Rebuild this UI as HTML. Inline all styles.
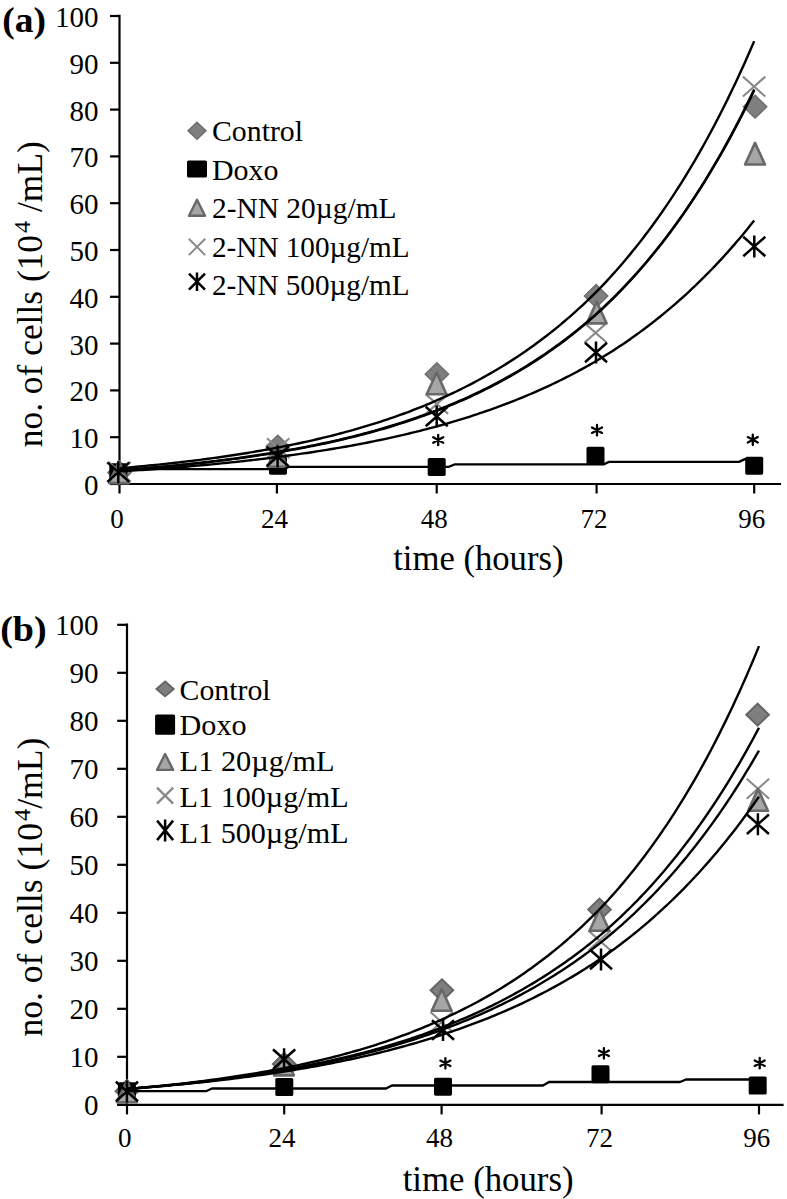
<!DOCTYPE html><html><head><meta charset="utf-8"><style>html,body{margin:0;padding:0;background:#fff;}svg{display:block;}text{font-family:"Liberation Serif",serif;}</style></head><body>
<svg width="787" height="1199" viewBox="0 0 787 1199">
<rect width="787" height="1199" fill="#fff"/>
<g stroke="#000" stroke-width="2.2" fill="none">
<path d="M119.5 14.8V485.2"/>
<path d="M110.0 484.0H119.5"/>
<path d="M110.0 437.2H119.5"/>
<path d="M110.0 390.4H119.5"/>
<path d="M110.0 343.6H119.5"/>
<path d="M110.0 296.8H119.5"/>
<path d="M110.0 250.0H119.5"/>
<path d="M110.0 203.2H119.5"/>
<path d="M110.0 156.4H119.5"/>
<path d="M110.0 109.6H119.5"/>
<path d="M110.0 62.8H119.5"/>
<path d="M110.0 16.0H119.5"/>
<path d="M110.0 484.0H781.0"/>
<path d="M119.5 484.0V493.5"/>
<path d="M276.9 484.0V493.5"/>
<path d="M436.7 484.0V493.5"/>
<path d="M596.6 484.0V493.5"/>
<path d="M754.2 484.0V493.5"/>
</g>
<g fill="#000">
<text x="98.5" y="494.9" font-size="29.0" text-anchor="end" font-weight="normal" >0</text>
<text x="98.5" y="448.1" font-size="29.0" text-anchor="end" font-weight="normal" >10</text>
<text x="98.5" y="401.3" font-size="29.0" text-anchor="end" font-weight="normal" >20</text>
<text x="98.5" y="354.5" font-size="29.0" text-anchor="end" font-weight="normal" >30</text>
<text x="98.5" y="307.7" font-size="29.0" text-anchor="end" font-weight="normal" >40</text>
<text x="98.5" y="260.9" font-size="29.0" text-anchor="end" font-weight="normal" >50</text>
<text x="98.5" y="214.1" font-size="29.0" text-anchor="end" font-weight="normal" >60</text>
<text x="98.5" y="167.3" font-size="29.0" text-anchor="end" font-weight="normal" >70</text>
<text x="98.5" y="120.5" font-size="29.0" text-anchor="end" font-weight="normal" >80</text>
<text x="98.5" y="73.7" font-size="29.0" text-anchor="end" font-weight="normal" >90</text>
<text x="98.5" y="26.9" font-size="29.0" text-anchor="end" font-weight="normal" >100</text>
<text x="117.0" y="528.0" font-size="27.0" text-anchor="middle" font-weight="normal" >0</text>
<text x="274.4" y="528.0" font-size="27.0" text-anchor="middle" font-weight="normal" >24</text>
<text x="434.2" y="528.0" font-size="27.0" text-anchor="middle" font-weight="normal" >48</text>
<text x="594.1" y="528.0" font-size="27.0" text-anchor="middle" font-weight="normal" >72</text>
<text x="751.7" y="528.0" font-size="27.0" text-anchor="middle" font-weight="normal" >96</text>
<text x="393.2" y="569.6" font-size="35.0" text-anchor="start" font-weight="normal" textLength="170.3" lengthAdjust="spacingAndGlyphs">time (hours)</text>
<text transform="translate(42.0 447.2) rotate(-90)" font-size="35.0" textLength="306.0" lengthAdjust="spacingAndGlyphs">no. of cells (10<tspan dx="2" dy="-12" font-size="24">4</tspan><tspan dy="12"> /mL)</tspan></text>
<text x="2.3" y="31.9" font-size="36.0" text-anchor="start" font-weight="bold" textLength="43.8" lengthAdjust="spacingAndGlyphs">(a)</text>
</g>
<polygon points="119.5,461.2 131.2,472.6 119.5,484.0 107.8,472.6" fill="#7f7f7f" stroke="#6c6c6c" stroke-width="1.4"/>
<rect x="109.3" y="463.2" width="18.0" height="18.0" rx="1.6" fill="#000"/>
<path d="M108.3 461.9L130.7 481.8M108.3 481.8L130.7 461.9" stroke="#8a8a8a" stroke-width="2.1" fill="none"/>
<polygon points="119.0,461.5 128.9,483.1 109.1,483.1" fill="#a6a6a6" stroke="#686868" stroke-width="2.6" stroke-linejoin="round"/>
<path d="M107.3 462.4L129.3 481.9M107.3 481.9L129.3 462.4M118.3 461.2V483.2" stroke="#000" stroke-width="2.5" fill="none"/>
<polygon points="277.8,435.2 289.5,446.6 277.8,458.0 266.1,446.6" fill="#7f7f7f" stroke="#6c6c6c" stroke-width="1.4"/>
<rect x="269.0" y="456.7" width="18.0" height="18.0" rx="1.6" fill="#000"/>
<path d="M267.0 438.2L289.4 458.1M267.0 458.1L289.4 438.2" stroke="#8a8a8a" stroke-width="2.1" fill="none"/>
<polygon points="277.5,445.2 287.4,466.8 267.6,466.8" fill="#a6a6a6" stroke="#686868" stroke-width="2.6" stroke-linejoin="round"/>
<path d="M266.6 446.8L288.6 466.2M266.6 466.2L288.6 446.8M277.6 445.5V467.5" stroke="#000" stroke-width="2.5" fill="none"/>
<polygon points="436.9,362.8 448.6,374.2 436.9,385.6 425.2,374.2" fill="#7f7f7f" stroke="#6c6c6c" stroke-width="1.4"/>
<rect x="427.7" y="457.9" width="18.0" height="18.0" rx="1.6" fill="#000"/>
<path d="M425.7 394.1L448.1 413.9M425.7 413.9L448.1 394.1" stroke="#8a8a8a" stroke-width="2.1" fill="none"/>
<polygon points="436.6,372.7 446.5,394.2 426.7,394.2" fill="#a6a6a6" stroke="#686868" stroke-width="2.6" stroke-linejoin="round"/>
<path d="M425.7 406.8L447.7 426.2M425.7 426.2L447.7 406.8M436.7 405.5V427.5" stroke="#000" stroke-width="2.5" fill="none"/>
<polygon points="596.1,284.6 607.8,296.0 596.1,307.4 584.4,296.0" fill="#7f7f7f" stroke="#6c6c6c" stroke-width="1.4"/>
<rect x="586.5" y="446.8" width="18.0" height="18.0" rx="1.6" fill="#000"/>
<path d="M584.4 322.9L606.8 342.8M584.4 342.8L606.8 322.9" stroke="#8a8a8a" stroke-width="2.1" fill="none"/>
<polygon points="596.7,301.9 606.6,323.4 586.8,323.4" fill="#a6a6a6" stroke="#686868" stroke-width="2.6" stroke-linejoin="round"/>
<path d="M585.0 342.8L607.0 362.2M585.0 362.2L607.0 342.8M596.0 341.5V363.5" stroke="#000" stroke-width="2.5" fill="none"/>
<polygon points="755.1,95.3 766.8,106.7 755.1,118.1 743.4,106.7" fill="#7f7f7f" stroke="#6c6c6c" stroke-width="1.4"/>
<rect x="745.2" y="456.7" width="18.0" height="18.0" rx="1.6" fill="#000"/>
<path d="M742.9 76.6L765.3 96.5M742.9 96.5L765.3 76.6" stroke="#8a8a8a" stroke-width="2.1" fill="none"/>
<polygon points="755.0,142.9 764.9,164.5 745.1,164.5" fill="#a6a6a6" stroke="#686868" stroke-width="2.6" stroke-linejoin="round"/>
<path d="M743.3 236.8L765.3 256.2M743.3 256.2L765.3 236.8M754.3 235.5V257.5" stroke="#000" stroke-width="2.5" fill="none"/>
<polyline points="119.50,468.23 122.78,467.95 126.06,467.67 129.34,467.38 132.62,467.09 135.90,466.80 139.18,466.50 142.45,466.19 145.73,465.88 149.01,465.56 152.29,465.24 155.57,464.91 158.85,464.57 162.13,464.23 165.41,463.89 168.69,463.53 171.97,463.18 175.25,462.81 178.52,462.44 181.80,462.06 185.08,461.68 188.36,461.29 191.64,460.89 194.92,460.48 198.20,460.07 201.48,459.65 204.76,459.23 208.04,458.79 211.32,458.35 214.60,457.90 217.88,457.44 221.15,456.98 224.43,456.50 227.71,456.02 230.99,455.53 234.27,455.03 237.55,454.53 240.83,454.01 244.11,453.48 247.39,452.95 250.67,452.40 253.95,451.85 257.22,451.29 260.50,450.71 263.78,450.13 267.06,449.54 270.34,448.93 273.62,448.32 276.90,447.69 280.23,447.06 283.56,446.41 286.89,445.75 290.22,445.08 293.55,444.40 296.88,443.71 300.20,443.00 303.53,442.28 306.86,441.55 310.19,440.81 313.52,440.05 316.85,439.28 320.18,438.50 323.51,437.70 326.84,436.89 330.17,436.06 333.50,435.22 336.82,434.37 340.15,433.50 343.48,432.61 346.81,431.71 350.14,430.80 353.47,429.87 356.80,428.92 360.13,427.95 363.46,426.97 366.79,425.97 370.12,424.95 373.45,423.92 376.77,422.87 380.10,421.79 383.43,420.70 386.76,419.60 390.09,418.47 393.42,417.32 396.75,416.15 400.08,414.96 403.41,413.75 406.74,412.52 410.07,411.27 413.40,409.99 416.73,408.70 420.05,407.38 423.38,406.04 426.71,404.67 430.04,403.28 433.37,401.87 436.70,400.43 440.03,398.96 443.36,397.47 446.69,395.96 450.02,394.41 453.36,392.84 456.69,391.25 460.02,389.62 463.35,387.97 466.68,386.28 470.01,384.57 473.34,382.83 476.68,381.06 480.01,379.25 483.34,377.42 486.67,375.55 490.00,373.65 493.33,371.72 496.66,369.75 499.99,367.75 503.32,365.71 506.66,363.64 509.99,361.53 513.32,359.38 516.65,357.20 519.98,354.98 523.31,352.72 526.64,350.42 529.98,348.08 533.31,345.70 536.64,343.27 539.97,340.81 543.30,338.30 546.63,335.74 549.96,333.15 553.29,330.50 556.62,327.81 559.96,325.08 563.29,322.29 566.62,319.46 569.95,316.58 573.28,313.64 576.61,310.66 579.94,307.62 583.27,304.53 586.61,301.38 589.94,298.19 593.27,294.93 596.60,291.62 599.88,288.25 603.17,284.82 606.45,281.33 609.73,277.77 613.02,274.16 616.30,270.48 619.58,266.74 622.87,262.94 626.15,259.06 629.43,255.12 632.72,251.11 636.00,247.03 639.28,242.88 642.57,238.65 645.85,234.35 649.13,229.98 652.42,225.53 655.70,221.00 658.98,216.39 662.27,211.70 665.55,206.93 668.83,202.08 672.12,197.14 675.40,192.11 678.68,187.00 681.97,181.79 685.25,176.50 688.53,171.11 691.82,165.63 695.10,160.05 698.38,154.37 701.67,148.60 704.95,142.72 708.23,136.74 711.52,130.66 714.80,124.47 718.08,118.17 721.37,111.76 724.65,105.23 727.93,98.60 731.22,91.84 734.50,84.97 737.78,77.98 741.07,70.87 744.35,63.63 747.63,56.26 750.92,48.77 754.20,41.14" fill="none" stroke="#000" stroke-width="2.40" stroke-linejoin="round"/>
<polyline points="119.50,470.43 122.78,470.19 126.06,469.94 129.34,469.69 132.62,469.44 135.90,469.18 139.18,468.92 142.45,468.65 145.73,468.38 149.01,468.11 152.29,467.82 155.57,467.54 158.85,467.25 162.13,466.95 165.41,466.65 168.69,466.34 171.97,466.03 175.25,465.71 178.52,465.39 181.80,465.06 185.08,464.72 188.36,464.38 191.64,464.03 194.92,463.68 198.20,463.32 201.48,462.95 204.76,462.58 208.04,462.20 211.32,461.82 214.60,461.42 217.88,461.02 221.15,460.62 224.43,460.20 227.71,459.78 230.99,459.35 234.27,458.92 237.55,458.47 240.83,458.02 244.11,457.56 247.39,457.09 250.67,456.61 253.95,456.13 257.22,455.64 260.50,455.13 263.78,454.62 267.06,454.10 270.34,453.57 273.62,453.03 276.90,452.49 280.23,451.93 283.56,451.36 286.89,450.78 290.22,450.19 293.55,449.60 296.88,448.99 300.20,448.37 303.53,447.74 306.86,447.09 310.19,446.44 313.52,445.78 316.85,445.10 320.18,444.41 323.51,443.71 326.84,443.00 330.17,442.27 333.50,441.53 336.82,440.78 340.15,440.01 343.48,439.24 346.81,438.44 350.14,437.64 353.47,436.82 356.80,435.98 360.13,435.13 363.46,434.27 366.79,433.38 370.12,432.49 373.45,431.58 376.77,430.65 380.10,429.70 383.43,428.74 386.76,427.76 390.09,426.77 393.42,425.75 396.75,424.72 400.08,423.67 403.41,422.61 406.74,421.52 410.07,420.41 413.40,419.29 416.73,418.14 420.05,416.98 423.38,415.79 426.71,414.58 430.04,413.35 433.37,412.10 436.70,410.83 440.03,409.53 443.36,408.21 446.69,406.87 450.02,405.51 453.36,404.12 456.69,402.70 460.02,401.26 463.35,399.80 466.68,398.31 470.01,396.79 473.34,395.25 476.68,393.68 480.01,392.08 483.34,390.45 486.67,388.79 490.00,387.11 493.33,385.39 496.66,383.65 499.99,381.87 503.32,380.06 506.66,378.22 509.99,376.35 513.32,374.44 516.65,372.50 519.98,370.53 523.31,368.52 526.64,366.47 529.98,364.39 533.31,362.28 536.64,360.12 539.97,357.93 543.30,355.70 546.63,353.42 549.96,351.11 553.29,348.76 556.62,346.36 559.96,343.93 563.29,341.45 566.62,338.92 569.95,336.36 573.28,333.74 576.61,331.08 579.94,328.37 583.27,325.62 586.61,322.81 589.94,319.96 593.27,317.06 596.60,314.10 599.88,311.09 603.17,308.03 606.45,304.92 609.73,301.74 613.02,298.52 616.30,295.23 619.58,291.89 622.87,288.49 626.15,285.03 629.43,281.51 632.72,277.92 636.00,274.27 639.28,270.56 642.57,266.78 645.85,262.93 649.13,259.02 652.42,255.04 655.70,250.98 658.98,246.86 662.27,242.66 665.55,238.39 668.83,234.04 672.12,229.61 675.40,225.11 678.68,220.52 681.97,215.86 685.25,211.11 688.53,206.28 691.82,201.36 695.10,196.36 698.38,191.27 701.67,186.08 704.95,180.81 708.23,175.44 711.52,169.98 714.80,164.42 718.08,158.76 721.37,153.00 724.65,147.14 727.93,141.18 731.22,135.11 734.50,128.93 737.78,122.65 741.07,116.25 744.35,109.74 747.63,103.11 750.92,96.37 754.20,89.50" fill="none" stroke="#000" stroke-width="2.40" stroke-linejoin="round"/>
<polyline points="119.50,470.19 122.78,469.95 126.06,469.70 129.34,469.45 132.62,469.20 135.90,468.94 139.18,468.67 142.45,468.40 145.73,468.13 149.01,467.85 152.29,467.56 155.57,467.27 158.85,466.98 162.13,466.68 165.41,466.37 168.69,466.06 171.97,465.75 175.25,465.43 178.52,465.10 181.80,464.77 185.08,464.43 188.36,464.08 191.64,463.73 194.92,463.38 198.20,463.01 201.48,462.64 204.76,462.27 208.04,461.89 211.32,461.50 214.60,461.10 217.88,460.70 221.15,460.29 224.43,459.87 227.71,459.44 230.99,459.01 234.27,458.57 237.55,458.12 240.83,457.67 244.11,457.21 247.39,456.73 250.67,456.25 253.95,455.77 257.22,455.27 260.50,454.76 263.78,454.25 267.06,453.72 270.34,453.19 273.62,452.65 276.90,452.10 280.23,451.54 283.56,450.96 286.89,450.38 290.22,449.79 293.55,449.19 296.88,448.58 300.20,447.95 303.53,447.32 306.86,446.67 310.19,446.01 313.52,445.35 316.85,444.67 320.18,443.97 323.51,443.27 326.84,442.55 330.17,441.82 333.50,441.08 336.82,440.32 340.15,439.55 343.48,438.77 346.81,437.98 350.14,437.17 353.47,436.34 356.80,435.50 360.13,434.65 363.46,433.78 366.79,432.90 370.12,432.00 373.45,431.08 376.77,430.15 380.10,429.20 383.43,428.24 386.76,427.26 390.09,426.26 393.42,425.24 396.75,424.21 400.08,423.15 403.41,422.08 406.74,420.99 410.07,419.88 413.40,418.75 416.73,417.61 420.05,416.44 423.38,415.25 426.71,414.04 430.04,412.81 433.37,411.55 436.70,410.28 440.03,408.98 443.36,407.66 446.69,406.32 450.02,404.95 453.36,403.56 456.69,402.14 460.02,400.70 463.35,399.23 466.68,397.74 470.01,396.22 473.34,394.68 476.68,393.11 480.01,391.51 483.34,389.88 486.67,388.22 490.00,386.53 493.33,384.82 496.66,383.07 499.99,381.30 503.32,379.49 506.66,377.65 509.99,375.78 513.32,373.87 516.65,371.93 519.98,369.96 523.31,367.95 526.64,365.91 529.98,363.83 533.31,361.72 536.64,359.56 539.97,357.37 543.30,355.14 546.63,352.87 549.96,350.57 553.29,348.22 556.62,345.83 559.96,343.40 563.29,340.92 566.62,338.40 569.95,335.84 573.28,333.23 576.61,330.58 579.94,327.88 583.27,325.13 586.61,322.33 589.94,319.48 593.27,316.59 596.60,313.64 599.88,310.64 603.17,307.59 606.45,304.49 609.73,301.33 613.02,298.11 616.30,294.84 619.58,291.51 622.87,288.12 626.15,284.67 629.43,281.16 632.72,277.59 636.00,273.96 639.28,270.26 642.57,266.50 645.85,262.67 649.13,258.77 652.42,254.81 655.70,250.78 658.98,246.67 662.27,242.49 665.55,238.24 668.83,233.91 672.12,229.51 675.40,225.03 678.68,220.47 681.97,215.83 685.25,211.11 688.53,206.31 691.82,201.42 695.10,196.45 698.38,191.39 701.67,186.24 704.95,180.99 708.23,175.66 711.52,170.23 714.80,164.71 718.08,159.09 721.37,153.37 724.65,147.55 727.93,141.63 731.22,135.60 734.50,129.47 737.78,123.23 741.07,116.87 744.35,110.41 747.63,103.84 750.92,97.14 754.20,90.33" fill="none" stroke="#000" stroke-width="2.40" stroke-linejoin="round"/>
<polyline points="119.50,471.41 122.78,471.21 126.06,471.01 129.34,470.80 132.62,470.59 135.90,470.37 139.18,470.16 142.45,469.93 145.73,469.71 149.01,469.48 152.29,469.25 155.57,469.01 158.85,468.78 162.13,468.53 165.41,468.29 168.69,468.03 171.97,467.78 175.25,467.52 178.52,467.26 181.80,466.99 185.08,466.72 188.36,466.44 191.64,466.16 194.92,465.88 198.20,465.59 201.48,465.29 204.76,465.00 208.04,464.69 211.32,464.38 214.60,464.07 217.88,463.75 221.15,463.43 224.43,463.10 227.71,462.77 230.99,462.43 234.27,462.08 237.55,461.73 240.83,461.38 244.11,461.02 247.39,460.65 250.67,460.28 253.95,459.90 257.22,459.51 260.50,459.12 263.78,458.73 267.06,458.32 270.34,457.91 273.62,457.50 276.90,457.07 280.23,456.64 283.56,456.21 286.89,455.76 290.22,455.31 293.55,454.85 296.88,454.39 300.20,453.91 303.53,453.43 306.86,452.95 310.19,452.45 313.52,451.95 316.85,451.43 320.18,450.92 323.51,450.39 326.84,449.85 330.17,449.30 333.50,448.75 336.82,448.19 340.15,447.62 343.48,447.04 346.81,446.45 350.14,445.85 353.47,445.24 356.80,444.62 360.13,443.99 363.46,443.35 366.79,442.70 370.12,442.04 373.45,441.37 376.77,440.69 380.10,440.00 383.43,439.30 386.76,438.58 390.09,437.86 393.42,437.12 396.75,436.37 400.08,435.61 403.41,434.84 406.74,434.06 410.07,433.26 413.40,432.45 416.73,431.62 420.05,430.79 423.38,429.94 426.71,429.08 430.04,428.20 433.37,427.31 436.70,426.40 440.03,425.48 443.36,424.55 446.69,423.60 450.02,422.64 453.36,421.66 456.69,420.66 460.02,419.65 463.35,418.62 466.68,417.58 470.01,416.52 473.34,415.44 476.68,414.34 480.01,413.23 483.34,412.10 486.67,410.95 490.00,409.79 493.33,408.60 496.66,407.40 499.99,406.18 503.32,404.93 506.66,403.67 509.99,402.39 513.32,401.09 516.65,399.76 519.98,398.42 523.31,397.05 526.64,395.66 529.98,394.25 533.31,392.82 536.64,391.36 539.97,389.88 543.30,388.38 546.63,386.86 549.96,385.30 553.29,383.73 556.62,382.13 559.96,380.50 563.29,378.85 566.62,377.17 569.95,375.46 573.28,373.73 576.61,371.97 579.94,370.18 583.27,368.36 586.61,366.52 589.94,364.64 593.27,362.74 596.60,360.80 599.88,358.83 603.17,356.84 606.45,354.81 609.73,352.74 613.02,350.65 616.30,348.52 619.58,346.35 622.87,344.16 626.15,341.92 629.43,339.66 632.72,337.35 636.00,335.01 639.28,332.63 642.57,330.21 645.85,327.76 649.13,325.26 652.42,322.73 655.70,320.16 658.98,317.54 662.27,314.88 665.55,312.18 668.83,309.44 672.12,306.65 675.40,303.82 678.68,300.94 681.97,298.02 685.25,295.05 688.53,292.03 691.82,288.97 695.10,285.85 698.38,282.69 701.67,279.48 704.95,276.21 708.23,272.89 711.52,269.52 714.80,266.10 718.08,262.62 721.37,259.09 724.65,255.49 727.93,251.85 731.22,248.14 734.50,244.37 737.78,240.55 741.07,236.66 744.35,232.71 747.63,228.70 750.92,224.62 754.20,220.48" fill="none" stroke="#000" stroke-width="2.40" stroke-linejoin="round"/>
<polyline points="119.5,469.2 284.0,469.2 289.0,466.8 449.0,466.8 455.0,464.3 604.0,464.3 609.0,461.9 739.0,461.9 745.0,459.1 754.2,459.1" fill="none" stroke="#000" stroke-width="2.30" stroke-linejoin="round"/>
<path d="M438.2 434.8V445.2M433.2 437.3L443.2 442.7M433.2 442.7L443.2 437.3" stroke="#000" stroke-width="2.3" stroke-linecap="round" fill="none"/>
<path d="M597.0 425.0V435.4M592.0 427.5L602.0 432.9M592.0 432.9L602.0 427.5" stroke="#000" stroke-width="2.3" stroke-linecap="round" fill="none"/>
<path d="M752.8 434.6V445.0M747.8 437.1L757.8 442.5M747.8 442.5L757.8 437.1" stroke="#000" stroke-width="2.3" stroke-linecap="round" fill="none"/>
<polygon points="197.0,122.2 206.0,130.8 197.0,139.4 188.0,130.8" fill="#7f7f7f" stroke="#6c6c6c" stroke-width="1.4"/>
<rect x="187.0" y="160.5" width="20.0" height="17.0" rx="1.6" fill="#000"/>
<polygon points="197.0,199.8 205.0,215.8 189.0,215.8" fill="#a6a6a6" stroke="#686868" stroke-width="2.4" stroke-linejoin="round"/>
<path d="M188.8 238.7L205.2 255.1M188.8 255.1L205.2 238.7" stroke="#8a8a8a" stroke-width="2.0" fill="none"/>
<path d="M189.0 273.7L205.0 289.7M189.0 289.7L205.0 273.7M197.0 272.4V290.9" stroke="#000" stroke-width="2.5" fill="none"/>
<g fill="#000">
<text x="212.0" y="141.3" font-size="30.0" text-anchor="start" font-weight="normal" textLength="91.0" lengthAdjust="spacingAndGlyphs">Control</text>
<text x="212.0" y="179.9" font-size="30.0" text-anchor="start" font-weight="normal" textLength="66.5" lengthAdjust="spacingAndGlyphs">Doxo</text>
<text x="212.0" y="218.0" font-size="30.0" text-anchor="start" font-weight="normal" textLength="184.5" lengthAdjust="spacingAndGlyphs">2-NN 20µg/mL</text>
<text x="212.0" y="256.6" font-size="30.0" text-anchor="start" font-weight="normal" textLength="197.6" lengthAdjust="spacingAndGlyphs">2-NN 100µg/mL</text>
<text x="212.0" y="294.9" font-size="30.0" text-anchor="start" font-weight="normal" textLength="197.6" lengthAdjust="spacingAndGlyphs">2-NN 500µg/mL</text>
</g>
<g stroke="#000" stroke-width="2.2" fill="none">
<path d="M127.0 623.6V1106.0"/>
<path d="M117.2 1104.8H127.0"/>
<path d="M117.2 1056.8H127.0"/>
<path d="M117.2 1008.8H127.0"/>
<path d="M117.2 960.8H127.0"/>
<path d="M117.2 912.8H127.0"/>
<path d="M117.2 864.8H127.0"/>
<path d="M117.2 816.8H127.0"/>
<path d="M117.2 768.8H127.0"/>
<path d="M117.2 720.8H127.0"/>
<path d="M117.2 672.8H127.0"/>
<path d="M117.2 624.8H127.0"/>
<path d="M117.2 1104.8H783.6"/>
<path d="M127.0 1104.8V1114.4"/>
<path d="M284.2 1104.8V1114.4"/>
<path d="M441.6 1104.8V1114.4"/>
<path d="M601.6 1104.8V1114.4"/>
<path d="M759.0 1104.8V1114.4"/>
</g>
<g fill="#000">
<text x="98.5" y="1114.6" font-size="29.0" text-anchor="end" font-weight="normal" >0</text>
<text x="98.5" y="1066.6" font-size="29.0" text-anchor="end" font-weight="normal" >10</text>
<text x="98.5" y="1018.6" font-size="29.0" text-anchor="end" font-weight="normal" >20</text>
<text x="98.5" y="970.6" font-size="29.0" text-anchor="end" font-weight="normal" >30</text>
<text x="98.5" y="922.6" font-size="29.0" text-anchor="end" font-weight="normal" >40</text>
<text x="98.5" y="874.6" font-size="29.0" text-anchor="end" font-weight="normal" >50</text>
<text x="98.5" y="826.6" font-size="29.0" text-anchor="end" font-weight="normal" >60</text>
<text x="98.5" y="778.6" font-size="29.0" text-anchor="end" font-weight="normal" >70</text>
<text x="98.5" y="730.6" font-size="29.0" text-anchor="end" font-weight="normal" >80</text>
<text x="98.5" y="682.6" font-size="29.0" text-anchor="end" font-weight="normal" >90</text>
<text x="98.5" y="634.6" font-size="29.0" text-anchor="end" font-weight="normal" >100</text>
<text x="124.8" y="1146.6" font-size="27.0" text-anchor="middle" font-weight="normal" >0</text>
<text x="282.0" y="1146.6" font-size="27.0" text-anchor="middle" font-weight="normal" >24</text>
<text x="439.4" y="1146.6" font-size="27.0" text-anchor="middle" font-weight="normal" >48</text>
<text x="599.4" y="1146.6" font-size="27.0" text-anchor="middle" font-weight="normal" >72</text>
<text x="756.8" y="1146.6" font-size="27.0" text-anchor="middle" font-weight="normal" >96</text>
<text x="402.7" y="1190.8" font-size="35.0" text-anchor="start" font-weight="normal" textLength="170.8" lengthAdjust="spacingAndGlyphs">time (hours)</text>
<text transform="translate(42.0 1036.6) rotate(-90)" font-size="35.0" textLength="299.0" lengthAdjust="spacingAndGlyphs">no. of cells (10<tspan dx="2" dy="-12" font-size="24">4</tspan><tspan dy="12">/mL)</tspan></text>
<text x="0.2" y="641.0" font-size="36.0" text-anchor="start" font-weight="bold" textLength="46.5" lengthAdjust="spacingAndGlyphs">(b)</text>
</g>
<polygon points="126.9,1080.2 138.2,1091.2 126.9,1102.2 115.6,1091.2" fill="#7f7f7f" stroke="#666" stroke-width="2.0"/>
<rect x="117.9" y="1082.3" width="18.0" height="18.0" rx="1.6" fill="#000"/>
<path d="M115.7 1081.5L138.1 1101.5M115.7 1101.5L138.1 1081.5" stroke="#8a8a8a" stroke-width="2.1" fill="none"/>
<polygon points="126.9,1080.6 136.8,1102.2 117.0,1102.2" fill="#a6a6a6" stroke="#686868" stroke-width="2.6" stroke-linejoin="round"/>
<path d="M115.9 1081.8L137.9 1101.3M115.9 1101.3L137.9 1081.8M126.9 1080.6V1102.6" stroke="#000" stroke-width="2.5" fill="none"/>
<polygon points="284.2,1053.0 295.5,1064.0 284.2,1075.0 272.9,1064.0" fill="#7f7f7f" stroke="#666" stroke-width="2.0"/>
<rect x="275.3" y="1078.0" width="18.0" height="18.0" rx="1.6" fill="#000"/>
<path d="M272.9 1049.3L295.3 1069.2M272.9 1069.2L295.3 1049.3" stroke="#8a8a8a" stroke-width="2.1" fill="none"/>
<polygon points="284.0,1053.8 293.9,1075.4 274.1,1075.4" fill="#a6a6a6" stroke="#686868" stroke-width="2.6" stroke-linejoin="round"/>
<path d="M273.1 1049.5L295.1 1069.0M273.1 1069.0L295.1 1049.5M284.1 1048.3V1070.3" stroke="#000" stroke-width="2.5" fill="none"/>
<polygon points="441.9,979.3 453.2,990.3 441.9,1001.3 430.6,990.3" fill="#7f7f7f" stroke="#666" stroke-width="2.0"/>
<rect x="434.0" y="1077.7" width="18.0" height="18.0" rx="1.6" fill="#000"/>
<path d="M430.4 1012.0L452.8 1032.0M430.4 1032.0L452.8 1012.0" stroke="#8a8a8a" stroke-width="2.1" fill="none"/>
<polygon points="441.7,989.1 451.6,1010.7 431.8,1010.7" fill="#a6a6a6" stroke="#686868" stroke-width="2.6" stroke-linejoin="round"/>
<path d="M432.0 1020.3L454.0 1039.8M432.0 1039.8L454.0 1020.3M443.0 1019.1V1041.1" stroke="#000" stroke-width="2.5" fill="none"/>
<polygon points="599.5,898.6 610.8,909.6 599.5,920.6 588.2,909.6" fill="#7f7f7f" stroke="#666" stroke-width="2.0"/>
<rect x="591.5" y="1065.2" width="18.0" height="18.0" rx="1.6" fill="#000"/>
<path d="M588.3 930.5L610.7 950.5M588.3 950.5L610.7 930.5" stroke="#8a8a8a" stroke-width="2.1" fill="none"/>
<polygon points="599.5,909.1 609.4,930.7 589.6,930.7" fill="#a6a6a6" stroke="#686868" stroke-width="2.6" stroke-linejoin="round"/>
<path d="M590.0 949.8L612.0 969.2M590.0 969.2L612.0 949.8M601.0 948.5V970.5" stroke="#000" stroke-width="2.5" fill="none"/>
<polygon points="757.6,703.7 768.9,714.7 757.6,725.7 746.3,714.7" fill="#7f7f7f" stroke="#666" stroke-width="2.0"/>
<rect x="748.7" y="1076.5" width="18.0" height="18.0" rx="1.6" fill="#000"/>
<path d="M746.7 778.8L769.1 798.7M746.7 798.7L769.1 778.8" stroke="#8a8a8a" stroke-width="2.1" fill="none"/>
<polygon points="758.0,789.1 767.9,810.8 748.1,810.8" fill="#a6a6a6" stroke="#686868" stroke-width="2.6" stroke-linejoin="round"/>
<path d="M746.9 814.5L768.9 834.0M746.9 834.0L768.9 814.5M757.9 813.3V835.3" stroke="#000" stroke-width="2.5" fill="none"/>
<polyline points="127.00,1088.96 130.28,1088.68 133.55,1088.39 136.82,1088.10 140.10,1087.81 143.38,1087.51 146.65,1087.20 149.93,1086.89 153.20,1086.58 156.47,1086.25 159.75,1085.92 163.03,1085.59 166.30,1085.25 169.57,1084.91 172.85,1084.55 176.12,1084.20 179.40,1083.83 182.68,1083.46 185.95,1083.08 189.22,1082.70 192.50,1082.31 195.77,1081.91 199.05,1081.51 202.32,1081.09 205.60,1080.67 208.88,1080.25 212.15,1079.81 215.43,1079.37 218.70,1078.92 221.97,1078.46 225.25,1078.00 228.52,1077.53 231.80,1077.04 235.07,1076.55 238.35,1076.05 241.62,1075.54 244.90,1075.03 248.18,1074.50 251.45,1073.96 254.72,1073.42 258.00,1072.86 261.27,1072.30 264.55,1071.72 267.82,1071.14 271.10,1070.54 274.38,1069.94 277.65,1069.32 280.92,1068.69 284.20,1068.06 287.48,1067.41 290.76,1066.74 294.04,1066.07 297.32,1065.39 300.60,1064.69 303.88,1063.98 307.15,1063.26 310.43,1062.52 313.71,1061.78 316.99,1061.02 320.27,1060.24 323.55,1059.45 326.83,1058.65 330.11,1057.84 333.39,1057.00 336.67,1056.16 339.95,1055.30 343.23,1054.42 346.50,1053.53 349.78,1052.63 353.06,1051.70 356.34,1050.76 359.62,1049.81 362.90,1048.84 366.18,1047.85 369.46,1046.84 372.74,1045.81 376.02,1044.77 379.30,1043.71 382.58,1042.63 385.85,1041.53 389.13,1040.41 392.41,1039.27 395.69,1038.11 398.97,1036.93 402.25,1035.73 405.53,1034.51 408.81,1033.27 412.09,1032.00 415.37,1030.72 418.65,1029.41 421.93,1028.07 425.20,1026.72 428.48,1025.34 431.76,1023.93 435.04,1022.50 438.32,1021.05 441.60,1019.56 444.93,1018.06 448.27,1016.52 451.60,1014.96 454.93,1013.37 458.27,1011.76 461.60,1010.11 464.93,1008.44 468.27,1006.73 471.60,1005.00 474.93,1003.23 478.27,1001.44 481.60,999.61 484.93,997.75 488.27,995.86 491.60,993.93 494.93,991.97 498.27,989.97 501.60,987.94 504.93,985.88 508.27,983.77 511.60,981.63 514.93,979.45 518.27,977.24 521.60,974.98 524.93,972.69 528.27,970.35 531.60,967.97 534.93,965.55 538.27,963.09 541.60,960.58 544.93,958.03 548.27,955.44 551.60,952.80 554.93,950.11 558.27,947.37 561.60,944.59 564.93,941.75 568.27,938.87 571.60,935.94 574.93,932.95 578.27,929.91 581.60,926.82 584.93,923.67 588.27,920.47 591.60,917.21 594.93,913.89 598.27,910.51 601.60,907.08 604.88,903.58 608.16,900.02 611.44,896.40 614.72,892.72 618.00,888.97 621.27,885.15 624.55,881.26 627.83,877.31 631.11,873.29 634.39,869.19 637.67,865.03 640.95,860.79 644.23,856.47 647.51,852.08 650.79,847.61 654.07,843.06 657.35,838.43 660.62,833.72 663.90,828.93 667.18,824.05 670.46,819.09 673.74,814.03 677.02,808.89 680.30,803.66 683.58,798.33 686.86,792.91 690.14,787.40 693.42,781.79 696.70,776.07 699.98,770.26 703.25,764.34 706.53,758.32 709.81,752.20 713.09,745.96 716.37,739.61 719.65,733.16 722.93,726.58 726.21,719.89 729.49,713.09 732.77,706.16 736.05,699.11 739.33,691.94 742.60,684.63 745.88,677.20 749.16,669.64 752.44,661.95 755.72,654.12 759.00,646.14" fill="none" stroke="#000" stroke-width="2.40" stroke-linejoin="round"/>
<polyline points="127.00,1088.96 130.28,1088.70 133.55,1088.43 136.82,1088.16 140.10,1087.88 143.38,1087.60 146.65,1087.31 149.93,1087.02 153.20,1086.72 156.47,1086.42 159.75,1086.12 163.03,1085.81 166.30,1085.49 169.57,1085.17 172.85,1084.84 176.12,1084.51 179.40,1084.17 182.68,1083.83 185.95,1083.48 189.22,1083.12 192.50,1082.76 195.77,1082.40 199.05,1082.02 202.32,1081.64 205.60,1081.26 208.88,1080.87 212.15,1080.47 215.43,1080.06 218.70,1079.65 221.97,1079.23 225.25,1078.81 228.52,1078.37 231.80,1077.93 235.07,1077.49 238.35,1077.03 241.62,1076.57 244.90,1076.10 248.18,1075.62 251.45,1075.14 254.72,1074.64 258.00,1074.14 261.27,1073.63 264.55,1073.11 267.82,1072.58 271.10,1072.05 274.38,1071.50 277.65,1070.95 280.92,1070.38 284.20,1069.81 287.48,1069.23 290.76,1068.64 294.04,1068.03 297.32,1067.42 300.60,1066.80 303.88,1066.17 307.15,1065.52 310.43,1064.87 313.71,1064.21 316.99,1063.53 320.27,1062.84 323.55,1062.15 326.83,1061.44 330.11,1060.71 333.39,1059.98 336.67,1059.23 339.95,1058.47 343.23,1057.70 346.50,1056.92 349.78,1056.12 353.06,1055.31 356.34,1054.49 359.62,1053.65 362.90,1052.80 366.18,1051.93 369.46,1051.05 372.74,1050.16 376.02,1049.25 379.30,1048.32 382.58,1047.38 385.85,1046.43 389.13,1045.46 392.41,1044.47 395.69,1043.46 398.97,1042.44 402.25,1041.41 405.53,1040.35 408.81,1039.28 412.09,1038.19 415.37,1037.08 418.65,1035.95 421.93,1034.80 425.20,1033.64 428.48,1032.45 431.76,1031.25 435.04,1030.03 438.32,1028.78 441.60,1027.52 444.93,1026.23 448.27,1024.92 451.60,1023.59 454.93,1022.24 458.27,1020.86 461.60,1019.47 464.93,1018.05 468.27,1016.60 471.60,1015.13 474.93,1013.64 478.27,1012.12 481.60,1010.58 484.93,1009.01 488.27,1007.42 491.60,1005.80 494.93,1004.15 498.27,1002.47 501.60,1000.77 504.93,999.04 508.27,997.28 511.60,995.49 514.93,993.67 518.27,991.82 521.60,989.94 524.93,988.03 528.27,986.08 531.60,984.10 534.93,982.10 538.27,980.05 541.60,977.98 544.93,975.87 548.27,973.72 551.60,971.54 554.93,969.32 558.27,967.06 561.60,964.77 564.93,962.44 568.27,960.07 571.60,957.66 574.93,955.21 578.27,952.72 581.60,950.19 584.93,947.61 588.27,945.00 591.60,942.34 594.93,939.63 598.27,936.88 601.60,934.09 604.88,931.25 608.16,928.36 611.44,925.42 614.72,922.43 618.00,919.40 621.27,916.31 624.55,913.17 627.83,909.98 631.11,906.74 634.39,903.44 637.67,900.09 640.95,896.68 644.23,893.22 647.51,889.70 650.79,886.12 654.07,882.48 657.35,878.77 660.62,875.01 663.90,871.19 667.18,867.30 670.46,863.34 673.74,859.32 677.02,855.24 680.30,851.08 683.58,846.86 686.86,842.57 690.14,838.20 693.42,833.76 696.70,829.25 699.98,824.66 703.25,820.00 706.53,815.26 709.81,810.44 713.09,805.54 716.37,800.56 719.65,795.49 722.93,790.34 726.21,785.11 729.49,779.79 732.77,774.38 736.05,768.87 739.33,763.28 742.60,757.60 745.88,751.82 749.16,745.94 752.44,739.97 755.72,733.89 759.00,727.72" fill="none" stroke="#000" stroke-width="2.40" stroke-linejoin="round"/>
<polyline points="127.00,1088.96 130.28,1088.70 133.55,1088.44 136.82,1088.17 140.10,1087.90 143.38,1087.62 146.65,1087.34 149.93,1087.06 153.20,1086.77 156.47,1086.48 159.75,1086.18 163.03,1085.87 166.30,1085.56 169.57,1085.25 172.85,1084.93 176.12,1084.61 179.40,1084.28 182.68,1083.94 185.95,1083.60 189.22,1083.26 192.50,1082.91 195.77,1082.55 199.05,1082.19 202.32,1081.82 205.60,1081.44 208.88,1081.06 212.15,1080.67 215.43,1080.28 218.70,1079.88 221.97,1079.47 225.25,1079.06 228.52,1078.64 231.80,1078.21 235.07,1077.78 238.35,1077.34 241.62,1076.89 244.90,1076.43 248.18,1075.97 251.45,1075.50 254.72,1075.02 258.00,1074.54 261.27,1074.04 264.55,1073.54 267.82,1073.03 271.10,1072.51 274.38,1071.99 277.65,1071.45 280.92,1070.91 284.20,1070.35 287.48,1069.79 290.76,1069.22 294.04,1068.64 297.32,1068.05 300.60,1067.45 303.88,1066.84 307.15,1066.22 310.43,1065.59 313.71,1064.95 316.99,1064.30 320.27,1063.64 323.55,1062.97 326.83,1062.29 330.11,1061.59 333.39,1060.89 336.67,1060.17 339.95,1059.44 343.23,1058.70 346.50,1057.95 349.78,1057.19 353.06,1056.41 356.34,1055.62 359.62,1054.82 362.90,1054.00 366.18,1053.17 369.46,1052.33 372.74,1051.47 376.02,1050.60 379.30,1049.72 382.58,1048.82 385.85,1047.91 389.13,1046.98 392.41,1046.04 395.69,1045.08 398.97,1044.10 402.25,1043.11 405.53,1042.11 408.81,1041.08 412.09,1040.04 415.37,1038.99 418.65,1037.91 421.93,1036.82 425.20,1035.71 428.48,1034.59 431.76,1033.44 435.04,1032.28 438.32,1031.09 441.60,1029.89 444.93,1028.67 448.27,1027.42 451.60,1026.16 454.93,1024.88 458.27,1023.57 461.60,1022.25 464.93,1020.90 468.27,1019.53 471.60,1018.14 474.93,1016.73 478.27,1015.29 481.60,1013.83 484.93,1012.35 488.27,1010.84 491.60,1009.31 494.93,1007.75 498.27,1006.16 501.60,1004.55 504.93,1002.92 508.27,1001.26 511.60,999.57 514.93,997.85 518.27,996.10 521.60,994.33 524.93,992.53 528.27,990.70 531.60,988.83 534.93,986.94 538.27,985.02 541.60,983.06 544.93,981.08 548.27,979.06 551.60,977.01 554.93,974.92 558.27,972.80 561.60,970.65 564.93,968.46 568.27,966.24 571.60,963.98 574.93,961.68 578.27,959.34 581.60,956.97 584.93,954.56 588.27,952.11 591.60,949.61 594.93,947.08 598.27,944.51 601.60,941.89 604.88,939.24 608.16,936.53 611.44,933.79 614.72,931.00 618.00,928.16 621.27,925.28 624.55,922.35 627.83,919.37 631.11,916.35 634.39,913.27 637.67,910.15 640.95,906.97 644.23,903.74 647.51,900.46 650.79,897.13 654.07,893.74 657.35,890.30 660.62,886.80 663.90,883.24 667.18,879.62 670.46,875.95 673.74,872.22 677.02,868.42 680.30,864.56 683.58,860.64 686.86,856.66 690.14,852.61 693.42,848.50 696.70,844.32 699.98,840.07 703.25,835.75 706.53,831.36 709.81,826.89 713.09,822.36 716.37,817.75 719.65,813.07 722.93,808.31 726.21,803.47 729.49,798.55 732.77,793.56 736.05,788.48 739.33,783.32 742.60,778.07 745.88,772.74 749.16,767.32 752.44,761.81 755.72,756.22 759.00,750.53" fill="none" stroke="#000" stroke-width="2.40" stroke-linejoin="round"/>
<polyline points="127.00,1088.96 130.28,1088.71 133.55,1088.46 136.82,1088.21 140.10,1087.95 143.38,1087.69 146.65,1087.42 149.93,1087.15 153.20,1086.87 156.47,1086.60 159.75,1086.31 163.03,1086.02 166.30,1085.73 169.57,1085.43 172.85,1085.13 176.12,1084.83 179.40,1084.51 182.68,1084.20 185.95,1083.88 189.22,1083.55 192.50,1083.22 195.77,1082.88 199.05,1082.54 202.32,1082.20 205.60,1081.84 208.88,1081.49 212.15,1081.12 215.43,1080.75 218.70,1080.38 221.97,1080.00 225.25,1079.61 228.52,1079.22 231.80,1078.82 235.07,1078.42 238.35,1078.01 241.62,1077.59 244.90,1077.16 248.18,1076.73 251.45,1076.30 254.72,1075.85 258.00,1075.40 261.27,1074.94 264.55,1074.48 267.82,1074.01 271.10,1073.53 274.38,1073.04 277.65,1072.54 280.92,1072.04 284.20,1071.53 287.48,1071.01 290.76,1070.49 294.04,1069.95 297.32,1069.41 300.60,1068.86 303.88,1068.30 307.15,1067.73 310.43,1067.15 313.71,1066.56 316.99,1065.97 320.27,1065.36 323.55,1064.75 326.83,1064.13 330.11,1063.49 333.39,1062.85 336.67,1062.19 339.95,1061.53 343.23,1060.86 346.50,1060.17 349.78,1059.48 353.06,1058.77 356.34,1058.05 359.62,1057.33 362.90,1056.59 366.18,1055.83 369.46,1055.07 372.74,1054.30 376.02,1053.51 379.30,1052.71 382.58,1051.90 385.85,1051.08 389.13,1050.24 392.41,1049.39 395.69,1048.52 398.97,1047.65 402.25,1046.76 405.53,1045.85 408.81,1044.93 412.09,1044.00 415.37,1043.05 418.65,1042.09 421.93,1041.12 425.20,1040.12 428.48,1039.12 431.76,1038.09 435.04,1037.05 438.32,1036.00 441.60,1034.93 444.93,1033.84 448.27,1032.73 451.60,1031.61 454.93,1030.47 458.27,1029.31 461.60,1028.13 464.93,1026.94 468.27,1025.73 471.60,1024.49 474.93,1023.24 478.27,1021.97 481.60,1020.68 484.93,1019.37 488.27,1018.04 491.60,1016.69 494.93,1015.32 498.27,1013.92 501.60,1012.51 504.93,1011.07 508.27,1009.61 511.60,1008.12 514.93,1006.62 518.27,1005.09 521.60,1003.54 524.93,1001.96 528.27,1000.36 531.60,998.73 534.93,997.08 538.27,995.40 541.60,993.69 544.93,991.96 548.27,990.20 551.60,988.42 554.93,986.60 558.27,984.76 561.60,982.89 564.93,980.99 568.27,979.06 571.60,977.11 574.93,975.12 578.27,973.10 581.60,971.04 584.93,968.96 588.27,966.84 591.60,964.69 594.93,962.51 598.27,960.29 601.60,958.04 604.88,955.76 608.16,953.43 611.44,951.08 614.72,948.68 618.00,946.25 621.27,943.78 624.55,941.27 627.83,938.72 631.11,936.13 634.39,933.51 637.67,930.84 640.95,928.13 644.23,925.37 647.51,922.58 650.79,919.74 654.07,916.86 657.35,913.93 660.62,910.96 663.90,907.93 667.18,904.87 670.46,901.75 673.74,898.59 677.02,895.38 680.30,892.11 683.58,888.80 686.86,885.43 690.14,882.02 693.42,878.55 696.70,875.02 699.98,871.44 703.25,867.81 706.53,864.11 709.81,860.36 713.09,856.55 716.37,852.69 719.65,848.76 722.93,844.77 726.21,840.72 729.49,836.60 732.77,832.43 736.05,828.18 739.33,823.87 742.60,819.50 745.88,815.05 749.16,810.54 752.44,805.95 755.72,801.29 759.00,796.57" fill="none" stroke="#000" stroke-width="2.40" stroke-linejoin="round"/>
<polyline points="127.0,1091.2 206.0,1091.2 212.0,1088.5 386.0,1088.5 392.0,1085.5 543.0,1085.5 549.0,1082.0 680.0,1082.0 686.0,1079.5 759.0,1079.5" fill="none" stroke="#000" stroke-width="2.30" stroke-linejoin="round"/>
<path d="M445.4 1058.1V1068.5M440.4 1060.6L450.4 1066.0M440.4 1066.0L450.4 1060.6" stroke="#000" stroke-width="2.3" stroke-linecap="round" fill="none"/>
<path d="M603.9 1048.1V1058.5M598.9 1050.6L608.9 1056.0M598.9 1056.0L608.9 1050.6" stroke="#000" stroke-width="2.3" stroke-linecap="round" fill="none"/>
<path d="M759.7 1058.0V1068.4M754.7 1060.5L764.7 1065.9M754.7 1065.9L764.7 1060.5" stroke="#000" stroke-width="2.3" stroke-linecap="round" fill="none"/>
<polygon points="165.1,681.5 173.7,688.9 165.1,696.3 156.5,688.9" fill="#7f7f7f" stroke="#666" stroke-width="2.0"/>
<rect x="155.1" y="714.4" width="20.0" height="20.4" rx="1.6" fill="#000"/>
<polygon points="165.1,754.0 173.1,769.9 157.1,769.9" fill="#a6a6a6" stroke="#686868" stroke-width="2.4" stroke-linejoin="round"/>
<path d="M157.0 787.7L173.2 803.7M157.0 803.7L173.2 787.7" stroke="#8a8a8a" stroke-width="2.4" fill="none"/>
<path d="M157.1 820.6L173.1 840.1M157.1 840.1L173.1 820.6M165.1 819.4V841.4" stroke="#000" stroke-width="2.5" fill="none"/>
<g fill="#000">
<text x="179.6" y="699.9" font-size="30.0" text-anchor="start" font-weight="normal" textLength="91.0" lengthAdjust="spacingAndGlyphs">Control</text>
<text x="179.6" y="735.4" font-size="30.0" text-anchor="start" font-weight="normal" textLength="67.0" lengthAdjust="spacingAndGlyphs">Doxo</text>
<text x="179.6" y="771.4" font-size="30.0" text-anchor="start" font-weight="normal" textLength="155.0" lengthAdjust="spacingAndGlyphs">L1 20µg/mL</text>
<text x="179.6" y="806.9" font-size="30.0" text-anchor="start" font-weight="normal" textLength="169.0" lengthAdjust="spacingAndGlyphs">L1 100µg/mL</text>
<text x="179.6" y="842.9" font-size="30.0" text-anchor="start" font-weight="normal" textLength="169.0" lengthAdjust="spacingAndGlyphs">L1 500µg/mL</text>
</g>
</svg></body></html>
